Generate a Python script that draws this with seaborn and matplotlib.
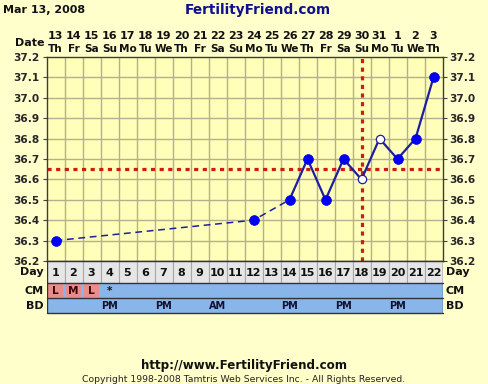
import matplotlib
matplotlib.use("Agg")
import matplotlib.pyplot as plt
import seaborn as sns
import pandas as pd
import numpy as np

# ---------------- data ----------------
days = list(range(1, 23))
dates = ['13', '14', '15', '16', '17', '18', '19', '20', '21', '22', '23', '24',
         '25', '26', '27', '28', '29', '30', '31', '1', '2', '3']
weekdays = ['Th', 'Fr', 'Sa', 'Su', 'Mo', 'Tu', 'We', 'Th', 'Fr', 'Sa', 'Su',
            'Mo', 'Tu', 'We', 'Th', 'Fr', 'Sa', 'Su', 'Mo', 'Tu', 'We', 'Th']
temp_days = [1, 12, 14, 15, 16, 17, 18, 19, 20, 21, 22]
temps = [36.3, 36.4, 36.5, 36.7, 36.5, 36.7, 36.6, 36.8, 36.7, 36.8, 37.1]
open_days = [18, 19]            # temperatures shown with open circles
gap_days = [1, 12, 14]          # connected with a dashed line (missing days)
cover_line = 36.65
ovulation_day = 18
y_ticks = [36.2, 36.3, 36.4, 36.5, 36.6, 36.7, 36.8, 36.9, 37.0, 37.1, 37.2]
cm_days = [1, 2, 3, 4]
cm_labels = ['L', 'M', 'L', '*']
cm_period = [True, True, True, False]
bd_days = [4, 7, 10, 14, 17, 20]
bd_labels = ['PM', 'PM', 'AM', 'PM', 'PM', 'PM']
title_date = 'Mar 13, 2008'
site = 'FertilityFriend.com'
url = 'http://www.FertilityFriend.com'
copyright_txt = 'Copyright 1998-2008 Tamtris Web Services Inc. - All Rights Reserved.'

# ---------------- style ----------------
W, H = 488, 384
BG = '#FFFFCC'
PLOT_BG = '#FFFFB9'
GRID = '#B4B08C'
LINE = '#1E1EA0'
DOT = '#0000F0'
RED = '#C81E14'
BLUE_ROW = '#88B6EA'
PINK = '#E88C8C'
GRAY_ROW = '#E6E6E6'
sns.set_style('white')
plt.rcParams['font.family'] = ['DejaVu Sans']
FS = 7.6

fig = plt.figure(figsize=(W / 100, H / 100), dpi=100, facecolor=BG)

def fx(x):
    return x / W

def fy(y):
    return 1 - y / H

L, R = 46.5, 442.5
TOP, BOT = 57, 261
ax = fig.add_axes([fx(L), fy(BOT), (R - L) / W, (BOT - TOP) / H])
ax.set_facecolor(PLOT_BG)
ax.set_xlim(0.5, 22.5)
ax.set_ylim(36.2, 37.2)

# grid
for k in range(1, 22):
    ax.axvline(0.5 + k, color=GRID, lw=1.0, zorder=0)
for t in y_ticks[1:-1]:
    ax.axhline(t, color=GRID, lw=1.0, zorder=0)

df = pd.DataFrame({'day': temp_days, 'temp': temps})
dashed = df[df['day'].isin(gap_days)]
solid = df[df['day'] >= gap_days[-1]]
sns.lineplot(data=dashed, x='day', y='temp', ax=ax, color=LINE, lw=1.1,
             linestyle=(0, (4.5, 3)), sort=False, zorder=3)
sns.lineplot(data=solid, x='day', y='temp', ax=ax, color=LINE, lw=1.6,
             sort=False, zorder=3)

# cover line and ovulation line
ax.axhline(cover_line, color=RED, lw=2.3, linestyle=(0, (1.3, 1.4)), zorder=2)
ax.axvline(ovulation_day, color=RED, lw=2.3, linestyle=(0, (1.3, 1.4)), zorder=2)

filled = df[~df['day'].isin(open_days)]
hollow = df[df['day'].isin(open_days)]
sns.scatterplot(data=filled, x='day', y='temp', ax=ax, color=DOT, s=50,
                edgecolor=DOT, linewidth=0.5, zorder=5)
sns.scatterplot(data=hollow, x='day', y='temp', ax=ax, color='white', s=36,
                edgecolor=LINE, linewidth=0.9, zorder=5)

ax.set_xlabel('')
ax.set_ylabel('')
ax.set_xticks([])
ax.set_yticks(y_ticks)
ax.set_yticklabels([f'{t:.1f}' for t in y_ticks])
ax.tick_params(axis='y', left=True, right=True, labelleft=True, labelright=True,
               length=3, width=0.8, color='#404040', pad=2, labelsize=FS)
for lab in ax.get_yticklabels():
    lab.set_fontweight('bold')
for s in ax.spines.values():
    s.set_color('#3C3C3C')
    s.set_linewidth(1.0)

# ---------------- table rows ----------------
TB = 313
tax = fig.add_axes([fx(L), fy(TB), (R - L) / W, (TB - BOT) / H])
tax.set_xlim(0.5, 22.5)
tax.set_ylim(52, 0)
tax.axis('off')
tax.set_facecolor(BG)
# day row
tax.bar(days, 22, bottom=0, width=1.0, color=GRAY_ROW, edgecolor='#A8A8A8', lw=0.8)
# cm and bd rows
tax.bar(days, 15, bottom=22, width=1.0, color=BLUE_ROW, edgecolor=BLUE_ROW, lw=0)
tax.bar(days, 15, bottom=37, width=1.0, color=BLUE_ROW, edgecolor=BLUE_ROW, lw=0)
for d, lab, per in zip(cm_days, cm_labels, cm_period):
    if per:
        tax.bar([d], 13, bottom=23, width=0.84, color=PINK, lw=0)
    tax.text(d, 30, lab, ha='center', va='center', fontsize=FS, fontweight='bold',
             color='#400000' if per else '#101010')
for d, lab in zip(bd_days, bd_labels):
    tax.text(d, 45, lab, ha='center', va='center', fontsize=FS - 0.6, fontweight='bold',
             color='#101030')
for d in days:
    tax.text(d, 11.5, str(d), ha='center', va='center', fontsize=FS + 0.4,
             fontweight='bold', color='#111111')
for yb in [0, 22, 37, 52]:
    tax.axhline(yb, color='#333333', lw=1.0, clip_on=False)
tax.axvline(0.5, color='#333333', lw=1.0)
tax.axvline(22.5, color='#333333', lw=1.0)

# row labels
for lab, yc in [('Day', 272), ('CM', 291), ('BD', 306)]:
    fig.text(fx(44), fy(yc), lab, ha='right', va='center', fontsize=FS + 0.4,
             fontweight='bold', color='#111111')
    fig.text(fx(446), fy(yc), lab, ha='left', va='center', fontsize=FS + 0.4,
             fontweight='bold', color='#111111')

# ---------------- header ----------------
fig.text(fx(3), fy(10), title_date, ha='left', va='center', fontsize=FS + 0.4,
         fontweight='bold', color='#111111')
fig.text(fx(258), fy(10), site, ha='center', va='center', fontsize=9.8,
         fontweight='bold', color='#10108C')
fig.text(fx(44), fy(43), 'Date', ha='right', va='center', fontsize=FS + 0.4,
         fontweight='bold', color='#111111')
for d, dt, wd in zip(days, dates, weekdays):
    xc = L + (d - 0.5) * (R - L) / 22
    fig.text(fx(xc), fy(36), dt, ha='center', va='center', fontsize=FS + 0.4,
             fontweight='bold', color='#111111')
    fig.text(fx(xc), fy(49), wd, ha='center', va='center', fontsize=FS,
             fontweight='bold', color='#111111')

# ---------------- footer ----------------
fig.text(fx(244), fy(365), url, ha='center', va='center', fontsize=FS + 1.0,
         fontweight='bold', color='#111111')
fig.text(fx(244), fy(380), copyright_txt, ha='center', va='center', fontsize=6.7,
         color='#222222')

fig.savefig('out.png', dpi=100, facecolor=BG)
